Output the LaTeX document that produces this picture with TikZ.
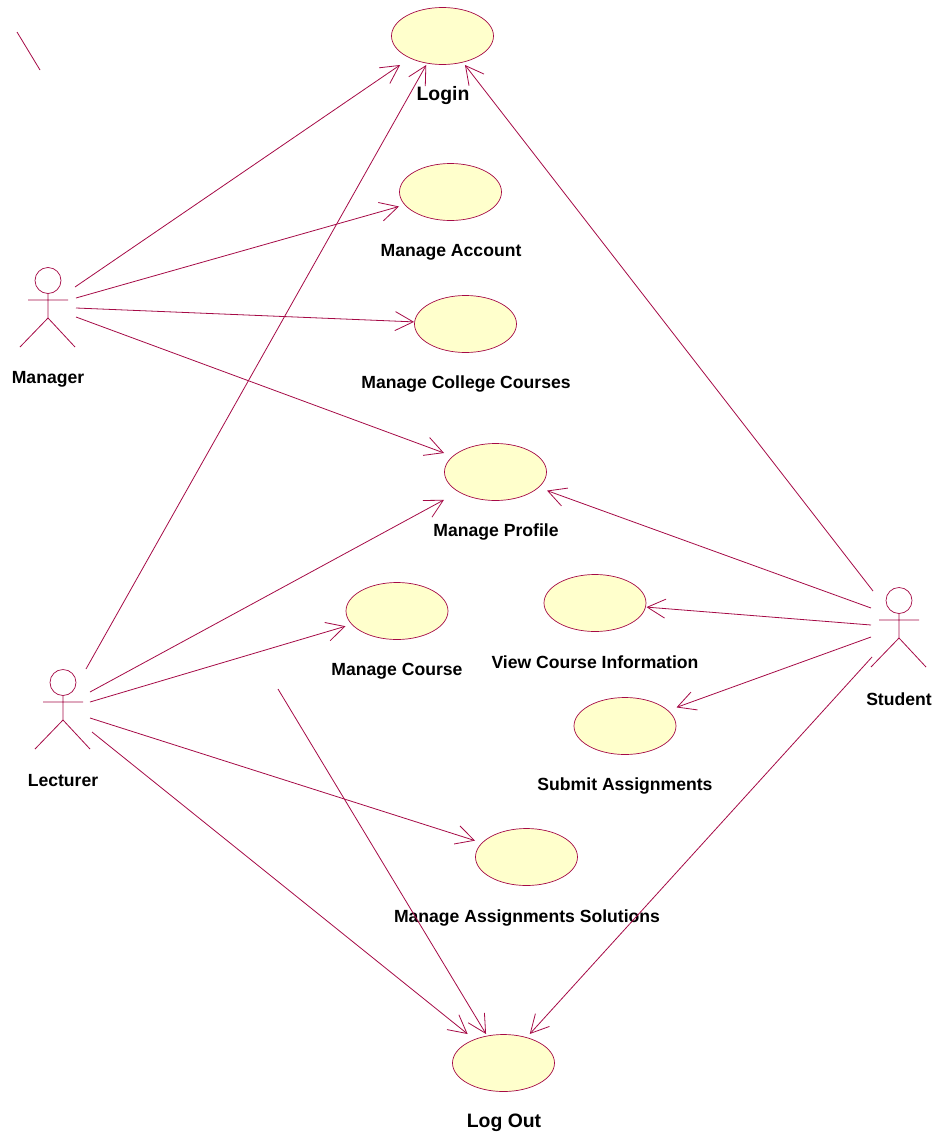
\documentclass[tikz,border=0pt]{standalone}
\usepackage{fontspec}
\setmainfont{Liberation Sans}
\usetikzlibrary{arrows.meta,shapes.geometric}
\definecolor{rosel}{RGB}{165,10,70}
\definecolor{rosef}{RGB}{255,255,204}
\tikzset{
 usecase/.style={ellipse,draw=rosel,fill=rosef,line width=0.7pt,minimum width=102pt,minimum height=57pt,inner sep=0pt,outer sep=0pt},
 casebox/.style={rectangle,draw=none,fill=none,minimum width=103pt,minimum height=58pt,inner sep=0pt,outer sep=0pt},
 lab/.style={font=\bfseries\fontsize{17.6}{20}\selectfont,text=black,inner sep=0pt,anchor=center},
 labbig/.style={font=\bfseries\fontsize{19.4}{22}\selectfont,text=black,inner sep=0pt,anchor=center},
 conn/.style={draw=rosel,line width=0.8pt,-{Straight Barb[length=18pt,width=19pt,line width=0.8pt]}},
 plain/.style={draw=rosel,line width=0.8pt},
 head/.style={circle,draw=rosel,line width=0.7pt,minimum size=26pt,inner sep=0pt,outer sep=0pt},
}
\newcommand{\actor}[3]{% name, x, y of head centre
 \node[head] (#1) at (#2,#3-0.5) {};
 \coordinate (#1neck) at (#2,#3+13);
 \coordinate (#1hip) at (#2,#3+37);
 \coordinate (#1la) at (#2-20,#3+19);
 \coordinate (#1ra) at (#2+20,#3+19);
 \coordinate (#1ll) at (#2-28,#3+66);
 \coordinate (#1rl) at (#2+27,#3+66);
 \draw[plain] (#1neck) -- (#1hip) (#1la) -- (#1ra) (#1ll) -- (#1hip) -- (#1rl);
}
\newcommand{\casenode}[3]{% name, x, y: drawn ellipse plus its rectangular connector box
 \node[usecase] (#1shape) at (#2,#3) {};
 \node[casebox] (#1) at (#2,#3) {};
}
\begin{document}
\begin{tikzpicture}[x=1pt,y=-1pt]
\useasboundingbox (0,0) rectangle (935,1135);
% use cases
\casenode{login}{442.5}{36}
\casenode{account}{450.5}{192}
\casenode{college}{465.5}{324}
\casenode{profile}{495.5}{472}
\casenode{course}{397}{611}
\casenode{view}{595}{603}
\casenode{submit}{625}{726}
\casenode{solutions}{526.5}{857}
\casenode{logout}{503.5}{1063}
% use case labels
\node[labbig] (tlogin) at (443,96) {Login};
\node[lab] (taccount) at (451,252) {Manage Account};
\node[lab] (tcollege) at (466,384) {Manage College Courses};
\node[lab] (tprofile) at (496,532) {Manage Profile};
\node[lab] (tcourse) at (397,671) {Manage Course};
\node[lab] (tview) at (595,662) {View Course Information};
\node[lab] (tsubmit) at (625,786) {Submit Assignments};
\node[lab] (tsolutions) at (527,918) {Manage Assignments Solutions};
\node[labbig] (tlogout) at (504,1123) {Log Out};
% actors
\actor{mgr}{48}{281}
\actor{lec}{63}{683}
\actor{stu}{899}{601}
\node[lab] (tmgr) at (48,379) {Manager};
\node[lab] (tlec) at (63,781) {Lecturer};
\node[lab] (tstu) at (899,699) {Student};
% free ends
\coordinate (m1) at (75,287);
\coordinate (m2) at (76,298);
\coordinate (m3) at (76,308);
\coordinate (m4) at (76,317);
\coordinate (l1) at (86,669);
\coordinate (l2) at (90,692);
\coordinate (l3) at (90,702);
\coordinate (l4) at (90,718);
\coordinate (l5) at (92,732);
\coordinate (s1) at (873,591);
\coordinate (s2) at (871,608);
\coordinate (s3) at (871,625);
\coordinate (s4) at (871,637);
\coordinate (s5) at (872,657);
\coordinate (free) at (278,689);
\coordinate (strayA) at (17,32);
\coordinate (strayB) at (40,70);
% connectors
\draw[conn] (m1) -- (login);
\draw[conn] (m2) -- (account);
\draw[conn] (m3) -- (college);
\draw[conn] (m4) -- (profile);
\draw[conn] (l1) -- (login);
\draw[conn] (l2) -- (profile);
\draw[conn] (l3) -- (course);
\draw[conn] (l4) -- (solutions);
\draw[conn] (l5) -- (logout);
\draw[conn] (s1) -- (login);
\draw[conn] (s2) -- (profile);
\draw[conn] (s3) -- (view);
\draw[conn] (s4) -- (submit);
\draw[conn] (s5) -- (logout);
\draw[conn] (free) -- (logout);
\draw[plain] (strayA) -- (strayB);
\end{tikzpicture}
\end{document}
